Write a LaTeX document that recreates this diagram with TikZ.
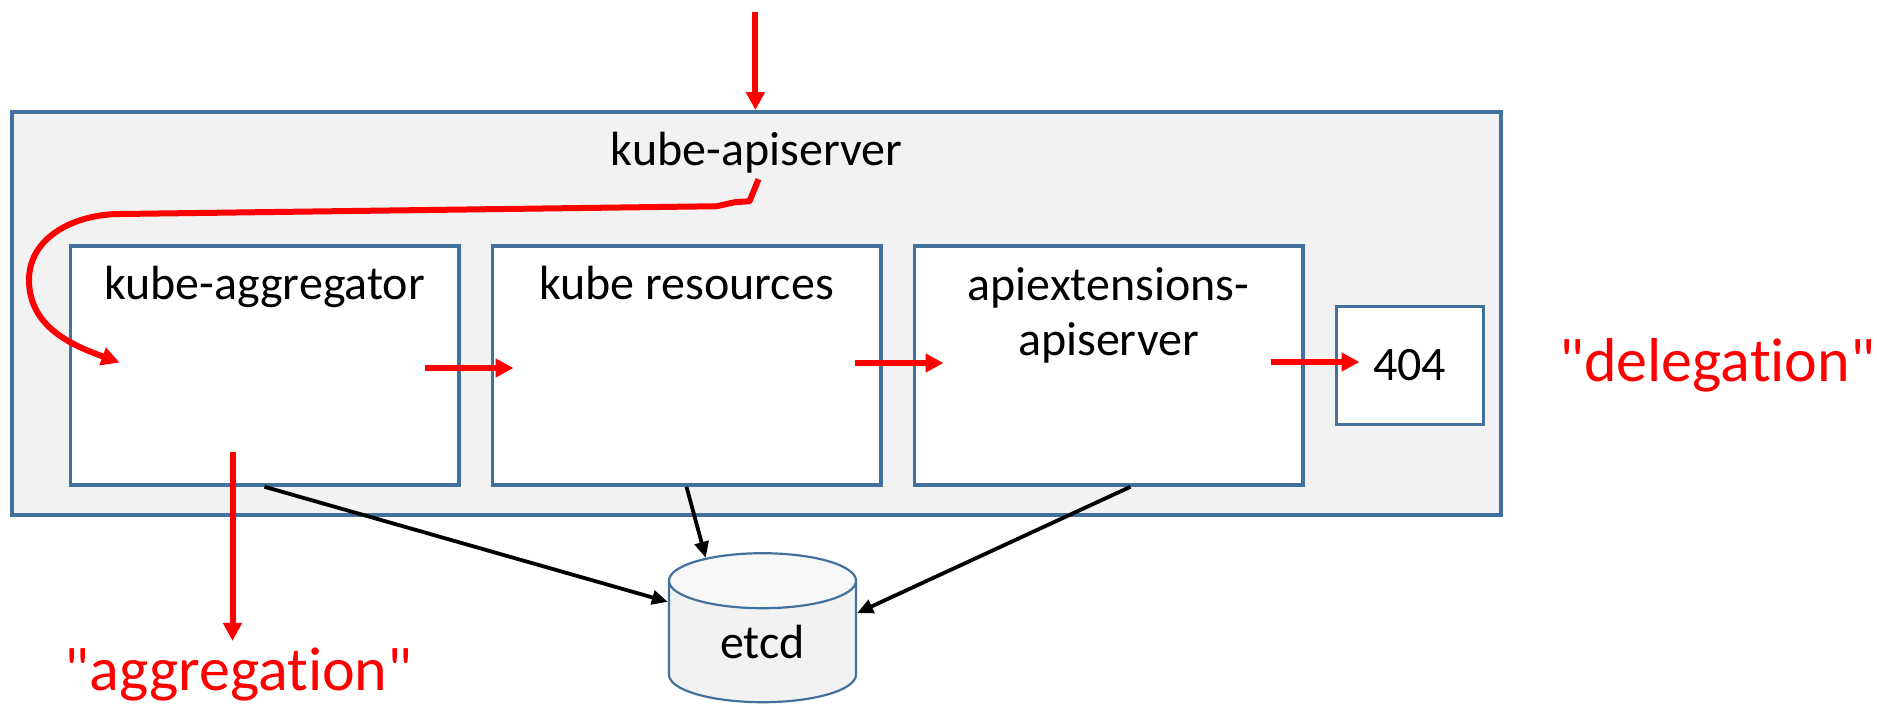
\documentclass[tikz,border=0pt]{standalone}
\usepackage{fontspec}
\setmainfont{Carlito}[Ligatures=NoCommon]
\usetikzlibrary{shapes.geometric, arrows.meta}
\usetikzlibrary{positioning}
\usetikzlibrary{calc}
\definecolor{boxblue}{RGB}{65,113,156}
\definecolor{panelgray}{RGB}{242,242,242}
\definecolor{topgray}{RGB}{247,247,247}
\tikzset{
outerbox/.style={
	rectangle,
	minimum width=744.5pt,
	minimum height=201.5pt,
	draw=boxblue,
	line width=1.9pt,
	fill=panelgray,
	inner sep=0pt
},
box/.style={
	rectangle,
	minimum width=194.25pt,
	minimum height=119.5pt,
	draw=boxblue,
	line width=1.75pt,
	fill=white,
	inner sep=0pt,
	font=\fontsize{24}{27.5}\selectfont
},
smallbox/.style={
	box,
	minimum width=73.5pt,
	minimum height=59pt
},
boxtext/.style={
	font=\fontsize{24}{27.5}\selectfont,
	align=center,
	inner sep=0pt,
	anchor=base
},
note/.style={
	font=\fontsize{31}{37}\selectfont,
	text=red,
	inner sep=0pt
},
db/.style={
	cylinder,
	shape border rotate=90,
	aspect=0.65,
	minimum width=93.5pt,
	minimum height=74.5pt,
	draw=boxblue,
	line width=1.1pt,
	cylinder uses custom fill,
	cylinder body fill=panelgray,
	cylinder end fill=topgray,
	inner sep=0pt,
	font=\fontsize{24}{27.5}\selectfont
},
arrow/.style={
	-{Triangle[length=8pt,width=7pt]},
	draw=black,
	line width=1.9pt
},
redarrow/.style={
	-{Triangle[length=9pt,width=9pt]},
	draw=red,
	line width=3pt,
	line join=round
}
}
\begin{document}
\begin{tikzpicture}[x=1pt, y=1pt]
\useasboundingbox (0,0) rectangle (938.5,-351.5);

\node (srv)  [outerbox] at (378.25,-156.75) {};
\node (srvtext) [boxtext] at ([yshift=-27.5pt]srv.north) {kube-apiserver};

\node (agg)  [box] at (132.25,-182.75) {};
\node (res)  [box, right=15pt of agg] {};
\node (ext)  [box, right=15pt of res] {};
\node (nf)   [smallbox, right=15pt of ext] {404};

\node (aggtext) [boxtext] at ([yshift=-27.5pt]agg.north) {kube-aggregator};
\node (restext) [boxtext] at ([yshift=-27.5pt]res.north) {kube resources};
\node (exttext) [boxtext] at ([yshift=-55.5pt]ext.north) {apiextensions-\\apiserver};

\node (etcd) [db] at (381.25,-321) {etcd};

\node (deleg) [note, right=37pt of nf] {\textquotedbl delegation\textquotedbl};
\node (aggr)  [note, anchor=base] at (119.25,-345) {\textquotedbl aggregation\textquotedbl};

\coordinate (entry) at (377.7,-6);

% request path
\draw [redarrow] (entry) -- (entry |- srv.north);
\draw [redarrow] ([xshift=1pt,yshift=-3pt]srvtext.south) -- ++(-4.5,-11) -- ++(-7.5,-0.5) -- ++(-9,-2) -- (60,-107)
	to[out=180,in=90] (14.5,-140) to[out=-90,in=160] ([xshift=25.5pt,yshift=1.5pt]agg.west);
\draw [redarrow] ([xshift=-18pt,yshift=-1.25pt]agg.east) -- ([xshift=11.5pt,yshift=-1.25pt]res.west);
\draw [redarrow] ([xshift=-14pt,yshift=1.25pt]res.east) -- ([xshift=15.5pt,yshift=1.25pt]ext.west);
\draw [redarrow] ([xshift=-17pt,yshift=1.75pt]ext.east) -- ([xshift=12.5pt,yshift=1.75pt]nf.west);
\draw [redarrow] ([xshift=-16pt,yshift=17.5pt]agg.south) -- ([xshift=-16pt,yshift=3pt]agg.south |- aggr.north);

% storage
\draw [arrow] (agg.south) -- (etcd.157);
\draw [arrow] (res.south) -- (etcd.124);
\draw [arrow] ([xshift=11pt]ext.south) -- (etcd.17);

\end{tikzpicture}
\end{document}
